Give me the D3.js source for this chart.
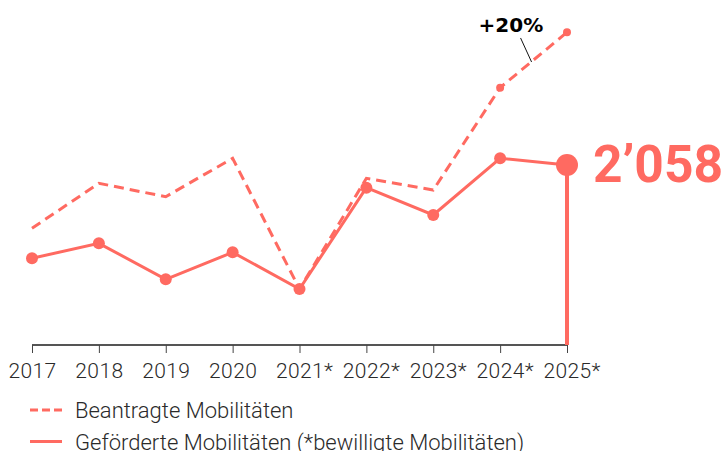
<!DOCTYPE html>
<html>
<head>
<meta charset="utf-8">
<script src="https://cdn.jsdelivr.net/npm/d3@7"></script>
<style>
  body { margin: 0; background: #fff; }
  svg { display: block; }
  text { font-family: Roboto, "Liberation Sans", sans-serif; }
</style>
</head>
<body>
<div id="chart"></div>
<script>
// Years on the x axis, * = bewilligte Mobilitäten
var years = ["2017", "2018", "2019", "2020", "2021", "2022", "2023", "2024", "2025"];
var tickLabels = ["2017", "2018", "2019", "2020", "2021*", "2022*", "2023*", "2024*", "2025*"];

// Beantragte Mobilitäten (dashed)
var requested = [1334, 1848, 1695, 2134, 640, 1905, 1771, 2941, 3574];
// Geförderte / bewilligte Mobilitäten (solid)
var funded = [991, 1162, 751, 1059, 640, 1798, 1486, 2134, 2058];

var legendLabels = ["Beantragte Mobilitäten", "Geförderte Mobilitäten (*bewilligte Mobilitäten)"];
var growthLabel = "+20%";

var red = "#ff6a61";
var W = 724, H = 451;

var svg = d3.select("#chart").append("svg")
  .attr("width", W).attr("height", H);

var x = d3.scalePoint().domain(years).range([32, 567]);
var y = d3.scaleLinear().domain([0, 3600]).range([345, 30]);

// x axis
var xAxis = d3.axisBottom(x)
  .tickSize(8)
  .tickFormat(function (d, i) { return tickLabels[i]; });

var gx = svg.append("g")
  .attr("transform", "translate(0," + y(0) + ")")
  .call(xAxis);

gx.select(".domain").attr("stroke", "#555").attr("stroke-width", 2)
  .attr("d", "M" + x(years[0]) + ",0H" + x(years[years.length - 1]));
gx.selectAll(".tick line").attr("stroke", "#444").attr("stroke-width", 1);

// keep the number centred under the tick, the asterisk hangs to the right
gx.selectAll(".tick text").each(function (d, i) {
  var t = d3.select(this);
  var lbl = tickLabels[i];
  var num = lbl.replace("*", "");
  t.text(num)
    .attr("fill", "#2a2a2a")
    .style("font-size", "21px")
    .style("font-weight", 300)
    .style("letter-spacing", "0.4px")
    .attr("y", 18)
    .attr("dy", "0.71em");
  var w = this.getComputedTextLength();
  t.attr("text-anchor", "start").attr("x", -w / 2);
  if (lbl.indexOf("*") >= 0) t.append("tspan").text("*");
});

var line = d3.line()
  .x(function (d, i) { return x(years[i]); })
  .y(function (d) { return y(d); });

// requested (dashed)
svg.append("path")
  .datum(requested)
  .attr("d", line)
  .attr("fill", "none")
  .attr("stroke", red)
  .attr("stroke-width", 3)
  .attr("stroke-dasharray", "10,6");

// dots only for the last two requested values
svg.selectAll(".rdot")
  .data(requested.slice(-2))
  .enter().append("circle")
  .attr("cx", function (d, i) { return x(years[years.length - 2 + i]); })
  .attr("cy", function (d) { return y(d); })
  .attr("r", 4)
  .attr("fill", red);

// vertical stem for the last funded value
var last = funded.length - 1;
svg.append("line")
  .attr("x1", x(years[last])).attr("x2", x(years[last]))
  .attr("y1", y(funded[last])).attr("y2", y(0))
  .attr("stroke", red).attr("stroke-width", 4);

// funded (solid)
svg.append("path")
  .datum(funded)
  .attr("d", line)
  .attr("fill", "none")
  .attr("stroke", red)
  .attr("stroke-width", 3);

svg.selectAll(".fdot")
  .data(funded)
  .enter().append("circle")
  .attr("cx", function (d, i) { return x(years[i]); })
  .attr("cy", function (d) { return y(d); })
  .attr("r", function (d, i) { return i === last ? 11 : 6; })
  .attr("fill", red);

// big value label
svg.append("text")
  .attr("x", x(years[last]) + 26)
  .attr("y", y(funded[last]) + 17)
  .attr("fill", red)
  .style("font-size", "51.5px")
  .style("font-weight", 700)
  .text(d3.format(",")(funded[last]).replace(",", "’"));

// +20% annotation on the dashed segment 2024 -> 2025
var mx = (x(years[7]) + x(years[8])) / 2;
var my = (y(requested[7]) + y(requested[8])) / 2;
svg.append("line")
  .attr("x1", mx - 2).attr("y1", my + 2)
  .attr("x2", mx - 13).attr("y2", my - 22)
  .attr("stroke", "#111").attr("stroke-width", 1);
svg.append("text")
  .attr("x", mx - 55)
  .attr("y", my - 28)
  .attr("fill", "#000")
  .style("font-family", "'DejaVu Sans', sans-serif")
  .style("font-size", "20px")
  .style("font-weight", 700)
  .text(growthLabel);

// legend
var leg = svg.append("g").attr("transform", "translate(30,410)");
legendLabels.forEach(function (lbl, i) {
  var g = leg.append("g").attr("transform", "translate(0," + i * 31.5 + ")");
  g.append("line")
    .attr("x1", 0).attr("x2", 32)
    .attr("stroke", red).attr("stroke-width", 3)
    .attr("stroke-dasharray", i === 0 ? "8,4" : null);
  g.append("text")
    .attr("x", 45).attr("y", 8)
    .attr("fill", "#2a2a2a")
    .style("font-size", "22px")
    .style("font-weight", 300)
    .text(lbl);
});
</script>
</body>
</html>
